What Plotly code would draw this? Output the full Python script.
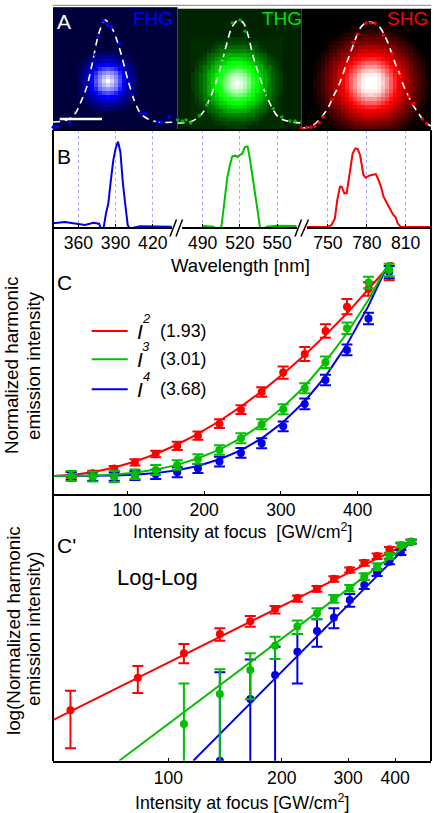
import numpy as np
import plotly.graph_objects as go

W, H = 436, 813
BLUE, GREEN, RED = "#0000e6", "#00c000", "#ff0000"
FONT = "Liberation Sans, Arial, sans-serif"

# ---------- Panel A: beam profiles (quadrant of each spot, base-36 levels 0..z)
fhg_spot = ["zwsnida74","wurmhda74","srpkgc974","nmkhdb864","ihgdb9754","ddcb97644","aa9876444","777654444","444444444"]
thg_spot = ["zxuqlifc9754","xwtpkifc9754","utrnjhec9754","qpnkifdb8653","lkjigec98643","iihfeca86543",
            "ffedca875433","cccb98764333","999886543333","777665433333","555544333333","444333333333"]
shg_spot = ["zzywsokhec97532","zzyvsokhec97532","yyxuqnjgeb97531","wvuroligdb86431","ssqomjheca86421",
            "oonljhfdb975321","kkjihfdb9864310","hhggedba8653210","eeedcb987542100","ccbba9865431000",
            "999887654311000","777665432110000","555443321000000","333322110000000","221111000000000"]
fhg_bg, thg_bg, shg_bg = 0.118, 0.07, 0.0

fhg_curve_x = [0,10,18,23.3,28,33.3,39.3,44,48,52,55,60,64,68.3,75,81.7,88,95,105,124.5]
fhg_curve_v = [0,.01,.04,.10,.2,.33,.575,.8,.93,1.0,.98,.9,.8,.66,.41,.2,.08,.03,0,0]
thg_curve_x = [0,12,20,25.8,30,35.2,41.8,48.5,54,58,62,66,70,75.8,82.5,90.8,100.8,110,124.5]
thg_curve_v = [-.01,0,.04,.10,.18,.30,.49,.74,.92,.98,1.0,.97,.87,.64,.43,.215,.05,.01,-.01]
shg_curve_x = [0,10,20,26.6,31.6,36.6,40.6,44.3,48.3,51.6,56,60,66,72,78,85.6,93.3,97.6,101.3,106,111,117.3,123,129.7]
shg_curve_v = [-.06,-.04,.05,.145,.25,.35,.45,.56,.67,.755,.87,.94,.98,.97,.93,.79,.58,.48,.37,.27,.17,.08,0,-.04]

fhg_dots_x = [.3,4.3,17,42,45.7,50.3,54.3,58.7,66.3,79.3,87.7,92,96,104.3,108.3,116.3,124.2]
fhg_dots_v = [-.05,-.05,-.01,.66,.84,.99,.95,.93,.77,.27,.09,.085,-.085,0,0,.05,.03]
thg_dots_x = [.2,4.8,8.5,13.2,21.8,29.2,45.8,54.8,62.5,67.5,87.5,95.8,104.2,112.5,117.5,124.2]
thg_dots_v = [.02,.01,.02,-.01,.06,.17,.62,.97,1.0,.89,.28,.13,.05,.01,.01,0]
shg_dots_x = [0,5,9.3,13.3,17.6,21.6,30,51.6,56,64.3,69,73.3,81.6,90.6,98.3,107.3,111.6,120.6,125]
shg_dots_v = [-.06,-.055,-.05,-.04,-.007,.05,.22,.78,.86,.97,.97,.97,.85,.67,.45,.25,.18,.03,-.013]
scale_bar_x = [6.7, 49]
scale_bar_v = [.03, .03]

# ---------- Panel B: spectra
blue_wl = [339.8,343.9,349.2,354.6,360,365.4,372.1,376.7,378.3,380.2,382.3,384.2,386.1,388.2,390.1,392,393.9,395.8,397.9,399.8,402.2,404.4,409.8,435.3]
blue_sp = [.043,.05,.059,.047,.031,.023,.05,.039,-.023,-.027,.16,.277,.531,.785,.922,1.0,.883,.531,.258,.023,-.031,-.008,.008,.004]
green_wl = [490.5,498.6,501.3,503.4,505.3,507.2,509.8,512,513.9,516.5,518.1,520,521.9,524,526.2,528,530.2,532.1,534,536.1,538.2,541.5,549.5,565.6]
green_sp = [.012,.004,-.023,-.055,.023,.258,.57,.727,.828,.836,.82,.844,.859,.9375,.945,.805,.61,.414,.219,.004,-.047,.004,.016,.012]
red_wl = [733.4,750.3,752.8,755.4,757.2,759.3,760.6,762.7,764.5,767.1,769.1,771.2,773,774.8,777.4,779.2,781.3,783.9,787,789,790.9,792.9,795,797.6,800.2,802,803.8,805.9,829.1]
red_sp = [0,.004,.023,.10,.316,.473,.473,.395,.395,.6875,.863,.922,.914,.844,.61,.578,.60,.61,.62,.55,.473,.355,.289,.219,.148,.121,.043,.004,0]
ticks_uv, ticks_vis, ticks_ir = [360,390,420], [490,520,550], [750,780,810]

# ---------- Panel C: linear scale
intensity = [27,55,83,110,137,165,192,220,248,275,303,331,358,386,414,441]
red_c = [.005,.013,.037,.066,.107,.146,.196,.254,.322,.408,.502,.592,.704,.822,.908,1.0]
red_c_err = [.014,.013,.012,.015,.016,.02,.02,.021,.021,.023,.03,.034,.033,.037,.033,.05]
green_c = [0,-.003,-.003,.008,.029,.053,.083,.126,.183,.251,.324,.426,.552,.717,.939,1.0]
green_c_err = [.024,.024,.027,.023,.024,.023,.023,.023,.024,.024,.024,.024,.028,.028,.028,.03]
blue_c = [0,-.003,-.003,.002,.008,.018,.036,.07,.112,.159,.241,.35,.466,.612,.765,.99]
blue_c_err = [.02,.02,.02,.022,.022,.024,.022,.024,.024,.024,.024,.026,.026,.026,.028,.03]
fit_x = [3,27,55,83,110,137,165,192,220,248,275,303,331,358,386,414,436,447]
red_fit = [0,.005,.018,.041,.07,.107,.153,.205,.267,.337,.411,.496,.588,.684,.79,.905,1.0,1.05]
green_fit = [0,0,.002,.007,.016,.031,.054,.086,.128,.184,.25,.335,.436,.555,.693,.856,1.0,1.08]
blue_fit = [0,0,0,.002,.006,.014,.028,.049,.081,.125,.183,.262,.363,.484,.639,.826,1.0,1.1]
ticks_c = [100,200,300,400]
legend_names = ["2","3","4"]
legend_slopes = ["(1.93)","(3.01)","(3.68)"]

# ---------- Panel C': log-log (log10 of the normalized intensity)
red_log = [None,-1.735,-1.399,-1.149,-.95,-.82,-.693,-.58,-.484,-.381,-.291,-.216,-.147,-.079,-.04,0]
red_up = [0,.202,.12,.096,.058,.055,.031,.027,.027,.024,.024,.024,.024,.024,.024,.02]
red_dn = [0,.391,.158,.103,.069,.055,.045,.038,.031,.031,.027,.031,.031,.034,.024,.02]
green_log = [None,None,None,-1.876,-1.567,-1.32,-1.07,-.874,-.737,-.59,-.48,-.36,-.257,-.147,-.034,0]
green_up = [0,0,0,.418,.254,.171,.093,.062,.051,.041,.034,.034,.034,.027,.024,.02]
green_dn = [0,0,0,2,2,.302,.137,.075,.062,.038,.034,.034,.034,.034,.024,.02]
blue_log = [None,None,None,None,-2.253,-1.619,-1.371,-1.132,-.919,-.779,-.6,-.446,-.319,-.206,-.11,0]
blue_up = [0,0,0,0,.91,.408,.291,.182,.12,.093,.062,.051,.034,.031,.024,.02]
blue_dn = [0,0,0,0,2,2,2,.326,.161,.113,.069,.041,.034,.027,.027,.02]
red_line_x, red_line_y = [49.4,441], [-1.835,0]
green_line_x, green_line_y = [74.1,441], [-2.253,0]
blue_line_x, blue_line_y = [116.5,441], [-2.253,0]


def dx(a, b):
    return [a / W, b / W]


def dy(top, bottom):
    return [1 - bottom / H, 1 - top / H]


def unfold(quadrant):
    q = np.array([[int(c, 36) / 35 for c in row] for row in quadrant])
    top = np.hstack([q[:, :0:-1], q])
    return np.vstack([top[:0:-1], top])


def embed(quadrant, bg, rows=37, cols=37):
    m = np.full((rows, cols), bg, dtype=float)
    s = unfold(quadrant)
    n = s.shape[0]
    r0, c0 = 18 - (n - 1) // 2, 18 - (n - 1) // 2
    m[r0:r0 + n, c0:c0 + n] = s
    return m


fig = go.Figure()
CELL_X, CELL_V = 4, 4 / 102

panels = [
    ("x", "#0000ff", fhg_spot, fhg_bg, 55, .40, fhg_curve_x, fhg_curve_v, fhg_dots_x, fhg_dots_v, "#0000ff"),
    ("x2", "#00ff00", thg_spot, thg_bg, 59.2, .385, thg_curve_x, thg_curve_v, thg_dots_x, thg_dots_v, "#00b000"),
    ("x3", "#ff0000", shg_spot, shg_bg, 69.3, .385, shg_curve_x, shg_curve_v, shg_dots_x, shg_dots_v, "#ff0000"),
]
for xa, hue, spot, bg, cx, cv, cur_x, cur_v, dot_x, dot_v, dot_c in panels:
    fig.add_trace(go.Heatmap(
        z=embed(spot, bg), x0=cx - 18 * CELL_X, dx=CELL_X, y0=cv + 18 * CELL_V, dy=-CELL_V,
        zmin=0, zmax=1, showscale=False, hoverinfo="skip",
        colorscale=[[0, "#000000"], [.5, hue], [1, "#ffffff"]], xaxis=xa, yaxis="y"))
    fig.add_trace(go.Scatter(x=cur_x, y=cur_v, mode="lines", xaxis=xa, yaxis="y", line=dict(color="white", width=1.6, dash="7px,5px", shape="spline"), cliponaxis=False))
    fig.add_trace(go.Scatter(x=dot_x, y=dot_v, mode="markers", xaxis=xa, yaxis="y", marker=dict(color=dot_c, size=3.6), cliponaxis=False))
fig.add_trace(go.Scatter(x=scale_bar_x, y=scale_bar_v, mode="lines", xaxis="x", yaxis="y", line=dict(color="white", width=2.6)))

# Panel B
for xa, wl, sp, col in [("x4", blue_wl, blue_sp, BLUE), ("x5", green_wl, green_sp, GREEN), ("x6", red_wl, red_sp, RED)]:
    fig.add_trace(go.Scatter(x=wl, y=sp, mode="lines", xaxis=xa, yaxis="y2", line=dict(color=col, width=2), cliponaxis=False))

# Panel C
for fit, vals, err, col in [(red_fit, red_c, red_c_err, RED), (blue_fit, blue_c, blue_c_err, BLUE), (green_fit, green_c, green_c_err, GREEN)]:
    fig.add_trace(go.Scatter(x=fit_x, y=fit, mode="lines", xaxis="x7", yaxis="y3", line=dict(color=col, width=2)))
    fig.add_trace(go.Scatter(x=intensity, y=vals, mode="markers", xaxis="x7", yaxis="y3", marker=dict(color=col, size=8),
                             error_y=dict(type="data", array=err, color=col, thickness=2, width=5.5)))

# Panel C'
for lx, ly, vals, up, dn, col in [(red_line_x, red_line_y, red_log, red_up, red_dn, RED),
                                  (blue_line_x, blue_line_y, blue_log, blue_up, blue_dn, BLUE),
                                  (green_line_x, green_line_y, green_log, green_up, green_dn, GREEN)]:
    fig.add_trace(go.Scatter(x=lx, y=ly, mode="lines", xaxis="x8", yaxis="y4", line=dict(color=col, width=2)))
    fig.add_trace(go.Scatter(x=intensity, y=vals, mode="markers", xaxis="x8", yaxis="y4", marker=dict(color=col, size=8),
                             error_y=dict(type="data", symmetric=False, array=up, arrayminus=dn, color=col, thickness=2, width=5.5)))

hidden = dict(showgrid=False, zeroline=False, showticklabels=False, ticks="", showline=False)


def wl_axis(a, b, lo, hi, ticks):
    return dict(domain=dx(a, b), range=[lo, hi], anchor="y2", tickvals=ticks, ticktext=[str(t) for t in ticks],
                ticks="inside", ticklen=3, tickwidth=1.2, tickcolor="black", showline=True, linecolor="black", linewidth=1.5,
                showgrid=True, gridcolor="#a8a8ff", griddash="dot", gridwidth=1, zeroline=False, ticklabelstandoff=-1,
                tickfont=dict(size=17.6, color="black", family=FONT))


def i_axis(extra, anchor, top=None):
    d = dict(domain=dx(53, 431), anchor=anchor, tickvals=ticks_c, ticktext=[str(t) for t in ticks_c], ticks="inside", ticklen=3,
             tickwidth=1.2, tickcolor="black", showline=True, linecolor="black", linewidth=2, showgrid=False, zeroline=False,
             tickfont=dict(size=17.6, color="black", family=FONT))
    d.update(extra)
    return d


fig.update_layout(
    width=W, height=H, margin=dict(l=0, r=0, t=0, b=0), paper_bgcolor="white", plot_bgcolor="rgba(0,0,0,0)",
    showlegend=False, font=dict(family=FONT, color="black"),
    xaxis=dict(domain=dx(53, 177.5), range=[0, 124.5], anchor="y", **hidden),
    xaxis2=dict(domain=dx(177.5, 301.7), range=[0, 124.2], anchor="y", **hidden),
    xaxis3=dict(domain=dx(301.7, 431), range=[0, 129.3], anchor="y", **hidden),
    yaxis=dict(domain=dy(5, 130), range=[-.078, 1.147], anchor="x", **hidden),
    xaxis4=wl_axis(53, 172, 339.6, 435.5, ticks_uv),
    xaxis5=wl_axis(181.5, 297, 473, 566, ticks_vis),
    xaxis6=wl_axis(306.5, 431, 733.5, 829.5, ticks_ir),
    yaxis2=dict(domain=dy(130, 227), range=[0, 97 / 85.3], anchor="x4", **hidden),
    xaxis7=i_axis(dict(range=[3.3, 495.4], ticklabelstandoff=-1), "y3"),
    yaxis3=dict(domain=dy(262, 494), range=[-.0874, 1.039], anchor="x7", **hidden),
    xaxis8=i_axis(dict(type="log", range=[1.694, 2.697]), "y4"),
    yaxis4=dict(domain=dy(494, 760.7), range=[-2.253, .49], anchor="x8", **hidden),
)

shapes = []


def seg(x0, y0, x1, y1, color="black", width=2):
    shapes.append(dict(type="line", xref="paper", yref="paper", x0=x0 / W, x1=x1 / W, y0=1 - y0 / H, y1=1 - y1 / H,
                       line=dict(color=color, width=width), layer="above"))


seg(53, 5.3, 431, 5.3, "#808080", 1)
seg(53, 130, 431, 130)
seg(53, 130, 53, 761)
seg(431, 130, 431, 761)
for a, b in [(170, 176.5), (176, 182.5), (295, 301.5), (301, 308.5)]:
    seg(a, 236.5, b, 219.5, "black", 1.5)
for py, col in zip((331, 359.3, 389.3), (RED, GREEN, BLUE)):
    seg(91.7, py, 127.7, py, col, 2)
fig.update_layout(shapes=shapes)

anns = []


def ann(text, x, y, size, color="black", angle=0):
    anns.append(dict(text=text, x=x / W, y=1 - y / H, xref="paper", yref="paper", showarrow=False, xanchor="center", yanchor="middle",
                     font=dict(size=size, color=color, family=FONT), textangle=angle))


ann("A", 64, 21.5, 21, "white")
ann("FHG", 153, 18.5, 19, "#0000ff")
ann("THG", 282, 18.5, 19, "#00e000")
ann("SHG", 407, 18.5, 19, "#ff0000")
ann("B", 64, 156, 21)
ann("C", 64, 283, 21)
ann("C'", 66, 545, 21)
ann("Wavelength [nm]", 240, 265, 18.6)
ann("Normalized harmonic", 11, 366, 18.8, angle=-90)
ann("emission intensity", 33, 366, 18.8, angle=-90)
ann("log(Normalized harmonic", 13, 631, 18.8, angle=-90)
ann("emission intensity)", 33, 629, 18.8, angle=-90)
ann("Intensity at focus \u00a0[GW/cm<sup>2</sup>]", 242, 530.5, 17.8)
ann("Intensity at focus [GW/cm<sup>2</sup>]", 242, 802, 17.8)
ann("Log-Log", 157, 577, 22)
for py, sup, slope in zip((331, 359.3, 389.3), legend_names, legend_slopes):
    ann("<i>I</i>", 140, py, 21)
    ann("<i>%s</i>" % sup, 146, py - 13, 13)
    ann(slope, 183, py, 17.8)
fig.update_layout(annotations=anns)

fig.write_html("out.html", config={"displayModeBar": False}, post_script="document.body.style.margin='0';")
